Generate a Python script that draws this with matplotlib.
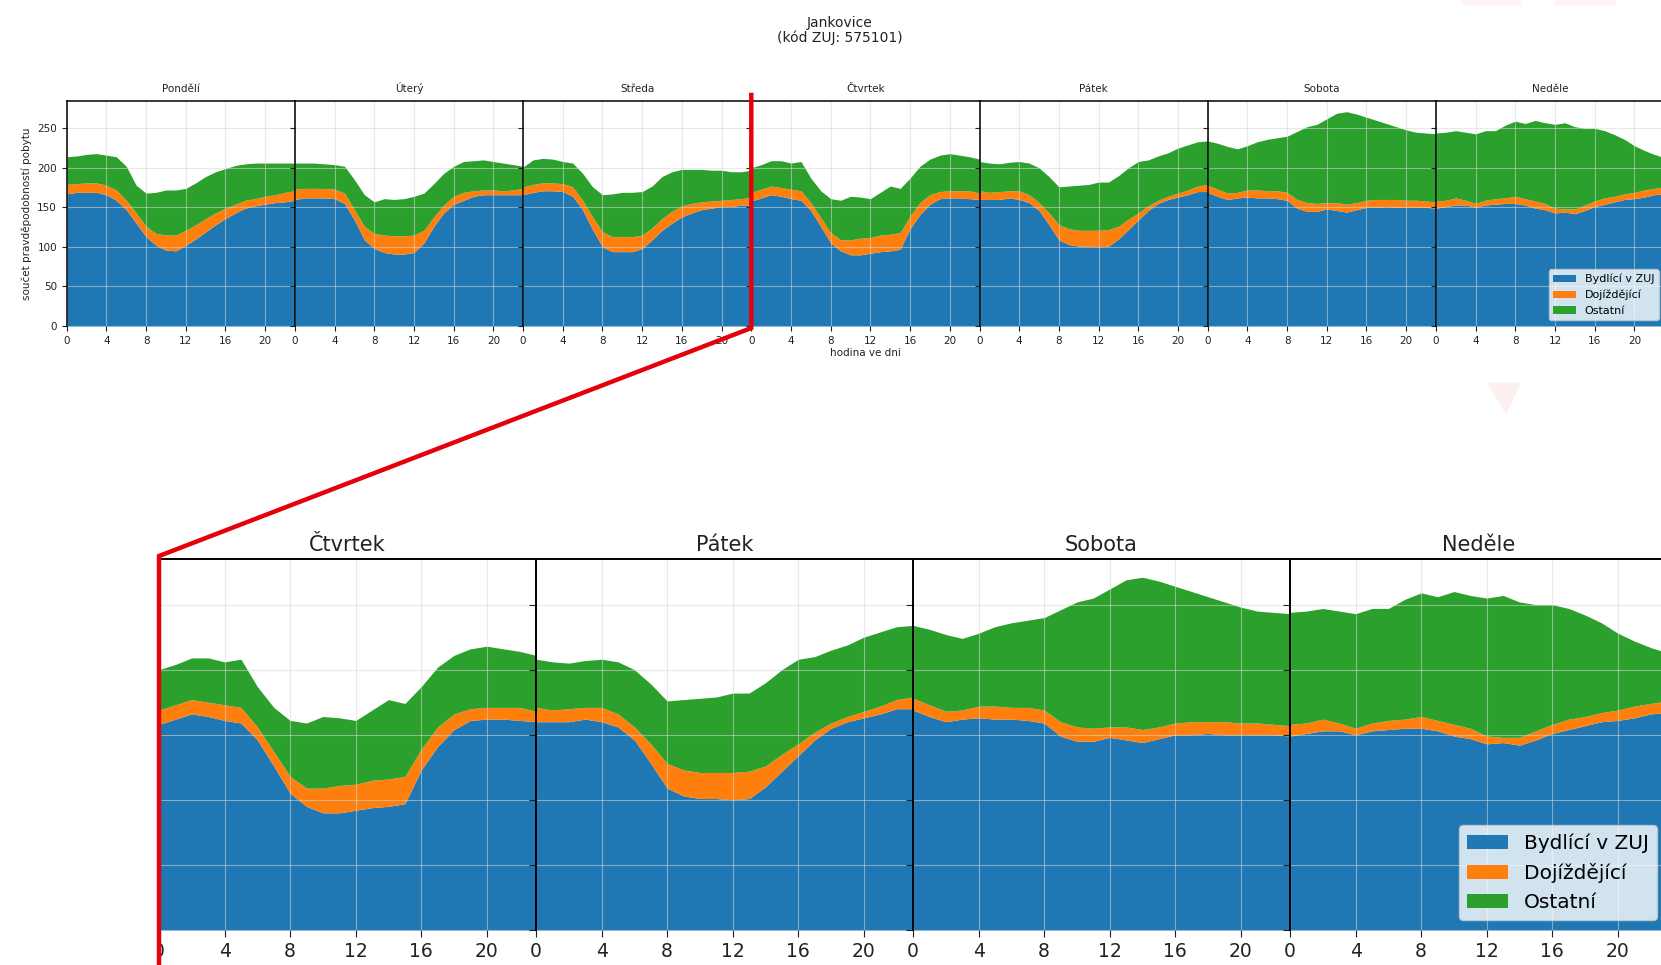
import matplotlib
matplotlib.use('Agg')
import matplotlib.pyplot as plt
import numpy as np
from matplotlib.lines import Line2D
from matplotlib.patches import Rectangle, Polygon

W, H = 1661, 965

DAYS = ['Pondělí', 'Úterý', 'Středa', 'Čtvrtek', 'Pátek', 'Sobota', 'Neděle']
HOURS = list(range(24))
X_TICKS = [0, 4, 8, 12, 16, 20]
Y_TICKS = [0, 50, 100, 150, 200, 250]
LABELS = ['Bydlící v ZUJ', 'Dojíždějící', 'Ostatní']
COLORS = ['#1f77b4', '#ff7f0e', '#2ca02c']

# levels (stack tops): blue, blue+orange, total
bydlici = {
    'Pondělí': [167, 169, 169, 169, 166, 159, 147, 130, 113, 102, 96, 95, 102, 110, 119, 128, 136, 143, 149, 152, 154, 156, 157, 159],
    'Úterý':   [160, 162, 162, 162, 161, 155, 134, 109, 98, 93, 91, 91, 93, 105, 126, 143, 154, 159, 164, 166, 166, 166, 166, 166],
    'Středa':  [166, 169, 171, 171, 170, 164, 147, 122, 100, 94, 94, 94, 98, 109, 121, 130, 138, 143, 147, 149, 151, 151, 153, 153],
    'Čtvrtek': [158, 162, 166, 164, 161, 159, 146, 126, 105, 95, 90, 90, 92, 94, 95, 97, 123, 141, 154, 161, 162, 162, 161, 160],
    'Pátek':   [160, 160, 160, 162, 160, 156, 146, 128, 109, 103, 101, 101, 100, 101, 110, 122, 134, 146, 155, 160, 163, 166, 170, 170],
    'Sobota':  [169, 164, 160, 162, 163, 162, 162, 161, 159, 149, 145, 145, 148, 146, 144, 147, 150, 150, 151, 150, 150, 150, 150, 149],
    'Neděle':  [149, 151, 153, 153, 150, 153, 154, 155, 155, 153, 149, 147, 143, 144, 142, 146, 151, 154, 157, 160, 161, 163, 166, 167],
}
s_dojizdejicimi = {
    'Pondělí': [179, 180, 181, 181, 178, 172, 159, 143, 126, 117, 115, 115, 121, 128, 136, 143, 149, 154, 159, 161, 164, 166, 169, 171],
    'Úterý':   [173, 174, 174, 174, 173, 168, 147, 126, 117, 115, 114, 114, 115, 121, 138, 153, 164, 169, 171, 172, 172, 171, 172, 174],
    'Středa':  [176, 179, 181, 181, 180, 176, 159, 138, 119, 113, 113, 113, 115, 124, 136, 145, 152, 155, 157, 158, 159, 160, 161, 163],
    'Čtvrtek': [169, 173, 177, 175, 173, 171, 156, 137, 118, 109, 109, 111, 112, 115, 116, 118, 139, 156, 166, 170, 171, 171, 171, 168],
    'Pátek':   [171, 169, 170, 171, 171, 166, 156, 143, 128, 123, 121, 121, 121, 122, 126, 135, 143, 152, 159, 164, 168, 172, 177, 179],
    'Sobota':  [178, 173, 168, 169, 172, 172, 171, 171, 169, 160, 156, 155, 156, 156, 154, 156, 159, 160, 160, 160, 159, 159, 158, 157],
    'Neděle':  [158, 159, 162, 159, 155, 159, 161, 162, 164, 161, 158, 155, 149, 148, 148, 153, 158, 162, 164, 167, 169, 172, 174, 176],
}
celkem = {
    'Pondělí': [214, 215, 217, 218, 216, 214, 202, 178, 168, 169, 172, 172, 174, 181, 189, 195, 199, 203, 205, 206, 206, 206, 206, 206],
    'Úterý':   [206, 206, 206, 205, 204, 202, 185, 166, 157, 161, 160, 161, 164, 168, 180, 193, 202, 208, 209, 210, 208, 206, 204, 202],
    'Středa':  [201, 210, 212, 211, 208, 206, 193, 176, 166, 167, 169, 169, 170, 177, 189, 195, 198, 198, 198, 197, 197, 195, 195, 197],
    'Čtvrtek': [200, 204, 209, 209, 206, 208, 187, 171, 161, 159, 164, 163, 161, 169, 177, 174, 187, 202, 211, 216, 218, 216, 214, 211],
    'Pátek':   [208, 206, 205, 207, 208, 206, 200, 189, 176, 177, 178, 179, 182, 182, 190, 200, 208, 210, 215, 219, 225, 229, 233, 234],
    'Sobota':  [234, 231, 227, 224, 228, 233, 236, 238, 240, 246, 252, 255, 262, 269, 271, 268, 264, 260, 256, 252, 248, 245, 244, 243],
    'Neděle':  [244, 245, 247, 245, 243, 247, 247, 254, 259, 256, 260, 257, 255, 257, 252, 250, 250, 247, 242, 236, 228, 222, 217, 213],
}


def px(x, y):
    # pixel (from top-left) -> figure fraction
    return x / W, 1 - y / H


def draw_day(ax, day, tick_fs, title_fs, spine_lw):
    b = bydlici[day]
    o = s_dojizdejicimi[day]
    t = celkem[day]
    ax.fill_between(HOURS, 0, b, color=COLORS[0], lw=0, label=LABELS[0])
    ax.fill_between(HOURS, b, o, color=COLORS[1], lw=0, label=LABELS[1])
    ax.fill_between(HOURS, o, t, color=COLORS[2], lw=0, label=LABELS[2])
    ax.set_xlim(0, 23)
    ax.set_ylim(0, 285)
    ax.set_xticks(X_TICKS)
    ax.set_yticks(Y_TICKS)
    ax.set_axisbelow(False)
    ax.grid(True, color='#d8d8d8', lw=0.8, alpha=0.55)
    ax.tick_params(labelsize=tick_fs, labelleft=False, colors='#222222')
    ax.set_title(day, fontsize=title_fs, color='#222222')
    ax.spines['bottom'].set_visible(False)
    ax.spines['right'].set_visible(False)
    for s in ('left', 'top'):
        ax.spines[s].set_color('black')
        ax.spines[s].set_linewidth(spine_lw)
        ax.spines[s].set_zorder(4)


fig = plt.figure(figsize=(W / 100, H / 100), dpi=100)

# ================= top chart, whole week
top_left, top_w = 66.7, 228.2
top_top, top_bot = 100.6, 326
top_axes = []
for i, day in enumerate(DAYS):
    l, b = px(top_left + i * top_w, top_bot)
    ax = fig.add_axes([l, b, top_w / W, (top_bot - top_top) / H])
    draw_day(ax, day, 7.5, 7.5, 1.1)
    top_axes.append(ax)

top_axes[0].tick_params(labelleft=True)
top_axes[0].set_ylabel('součet pravděpodobností pobytu', fontsize=7.5, color='#222222')
top_axes[3].set_xlabel('hodina ve dni', fontsize=7.5, color='#222222', labelpad=2)
top_axes[6].legend(loc='lower right', fontsize=8)

fig.text(840 / W, 1 - 30.5 / H, 'Jankovice\n(kód ZUJ: 575101)', ha='center', va='center',
         fontsize=10, color='#222222', linespacing=1.1)

# ================= bottom chart, zoom on Thursday..Sunday
bot_left, bot_w = 159, 377
bot_top, bot_bot = 559, 930
for i, day in enumerate(DAYS[3:]):
    l, b = px(bot_left + i * bot_w, bot_bot)
    ax = fig.add_axes([l, b, bot_w / W, (bot_bot - bot_top) / H])
    draw_day(ax, day, 13.5, 15, 1.4)
    ax.tick_params(length=5)
    if day == 'Neděle':
        ax.legend(loc='lower right', fontsize=14.5)

# crop of the left edge of the zoomed picture
fig.add_artist(Rectangle((0, 0), bot_left / W, 0.41, transform=fig.transFigure,
                         color='white', zorder=8))

# faint leftovers from the screenshot
fig.add_artist(Polygon([px(1488, 383), px(1520, 383), px(1506, 413)], closed=True,
                       transform=fig.transFigure, color='#fdeef0', zorder=1))
fig.add_artist(Rectangle(px(1462, 4), 58 / W, 4 / H, transform=fig.transFigure,
                         color='#fef4f5', zorder=1))
fig.add_artist(Rectangle(px(1555, 4), 60 / W, 4 / H, transform=fig.transFigure,
                         color='#fef4f5', zorder=1))

# red zoom connector
xs, ys = zip(px(top_left + 3 * top_w, 95), px(top_left + 3 * top_w, 328),
             px(bot_left, 556), px(bot_left, 965))
fig.add_artist(Line2D(xs, ys, transform=fig.transFigure, color='#e5000c', lw=3.2,
                      solid_joinstyle='miter', zorder=10))

fig.savefig('out.png', dpi=100)
